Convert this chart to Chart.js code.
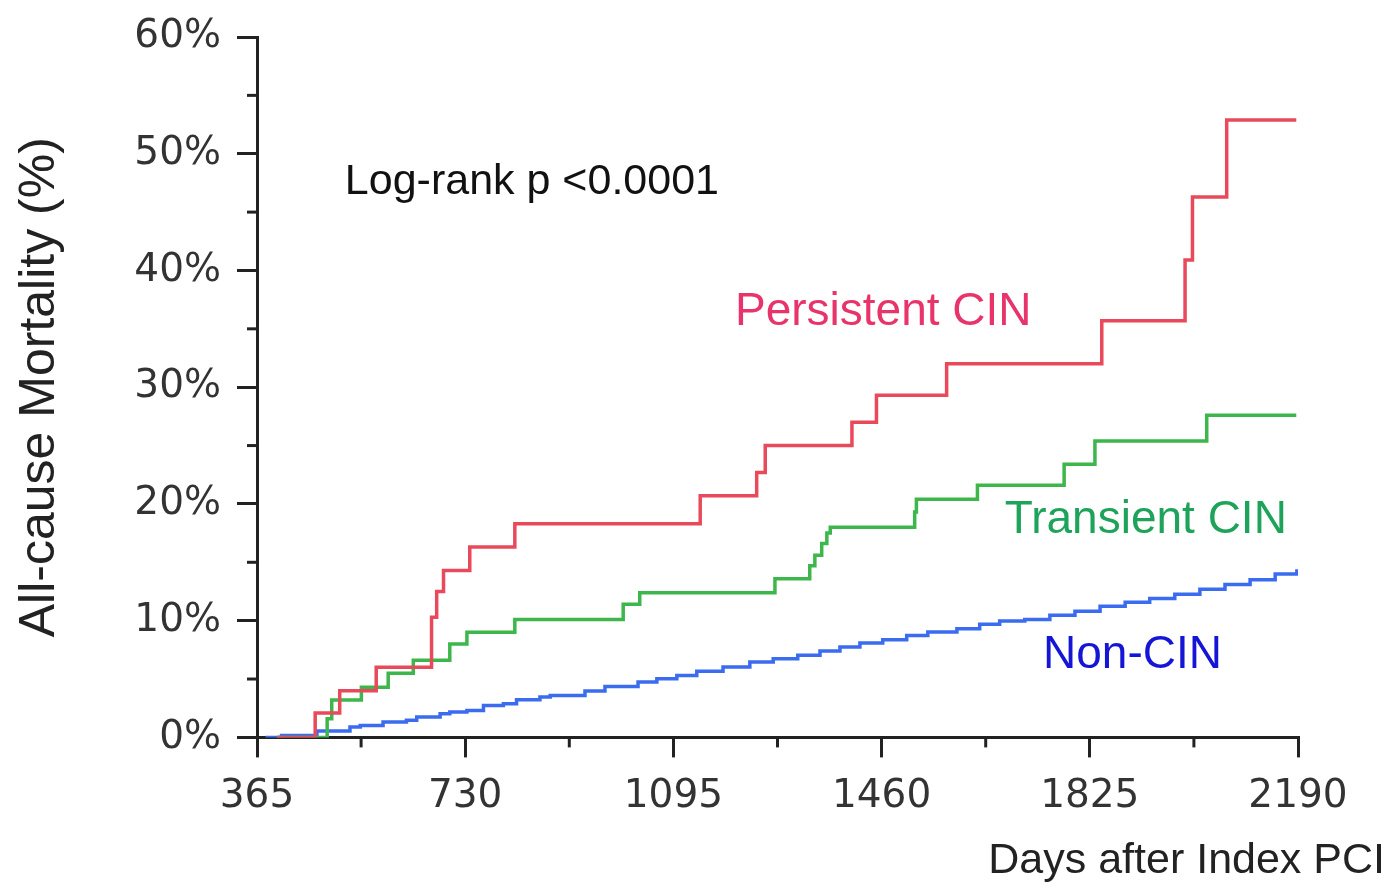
<!DOCTYPE html>
<html><head><meta charset="utf-8">
<script src="https://cdn.jsdelivr.net/npm/chart.js@4.4.0/dist/chart.umd.min.js"></script>
<style>html,body{margin:0;padding:0;background:#fff;overflow:hidden;}</style>
</head><body>
<canvas id="c" width="1393" height="889" style="display:block;width:1393px;height:889px"></canvas>
<script>
// ---- data (days after index PCI, cumulative mortality %) ----
const xTicks = [365, 730, 1095, 1460, 1825, 2190];
const xMinorTicks = [547.5, 912.5, 1277.5, 1642.5, 2007.5];
const yTicks = [0, 10, 20, 30, 40, 50, 60];
const yMinorTicks = [5, 15, 25, 35, 45, 55];

const persistentDays = [400, 467, 510, 574, 671, 680, 692, 738, 817, 1142, 1241, 1256, 1408, 1451, 1574, 1846, 1992, 2005, 2065, 2187];
const persistentPct  = [0, 2.1, 4.0, 6.0, 10.3, 12.5, 14.3, 16.3, 18.3, 20.7, 22.7, 25.0, 27.0, 29.3, 32.0, 35.7, 40.9, 46.3, 52.9, 52.9];

const transientDays = [400, 488, 496, 548, 595, 639, 703, 733, 817, 1007, 1036, 1273, 1334, 1343, 1355, 1364, 1370, 1518, 1521, 1628, 1780, 1834, 2030, 2187];
const transientPct  = [0, 1.6, 3.2, 4.3, 5.5, 6.6, 8.0, 9.0, 10.1, 11.4, 12.4, 13.6, 14.7, 15.6, 16.6, 17.5, 18.0, 19.3, 20.4, 21.6, 23.4, 25.4, 27.6, 27.6];

const nonCinDays = [380, 408, 470, 528, 546, 586, 627, 645, 686, 703, 733, 762, 797, 820, 861, 879, 940, 975, 1033, 1066, 1101, 1136, 1182, 1229, 1270, 1313, 1352, 1387, 1422, 1462, 1504, 1541, 1592, 1632, 1667, 1711, 1755, 1799, 1843, 1887, 1930, 1974, 2018, 2062, 2106, 2150, 2188];
const nonCinPct  = [0, 0.17, 0.54, 0.89, 1.03, 1.31, 1.46, 1.74, 2.03, 2.17, 2.31, 2.74, 2.89, 3.23, 3.46, 3.6, 3.97, 4.37, 4.74, 5.03, 5.31, 5.66, 6.03, 6.46, 6.74, 7.03, 7.4, 7.74, 8.08, 8.37, 8.74, 9.03, 9.31, 9.69, 9.97, 10.1, 10.46, 10.8, 11.23, 11.57, 11.9, 12.26, 12.7, 13.1, 13.5, 14.0, 14.4];

const seriesNames = ['Persistent CIN', 'Transient CIN', 'Non-CIN'];
const labelTexts = ['Log-rank p <0.0001', 'Persistent CIN', 'Transient CIN', 'Non-CIN'];
const labelDays  = [519, 1203, 1676, 1743];
const labelPcts  = [47.6, 36.4, 18.6, 7.0];

// ---- styles ----
const lineColors = ['#e8495b', '#3db64b', '#3b6cf0'];
const labelColors = ['#111111', '#e8336b', '#1ea35a', '#1515d6'];
const labelSizes = [43, 46, 46, 46];
const AXIS = '#222222';

function pts(xs, ys) { return xs.map((x, i) => ({ x: x, y: ys[i] })); }

const extras = {
  id: 'extras',
  afterDraw(chart) {
    const ctx = chart.ctx, xs = chart.scales.x, ys = chart.scales.y;
    const ca = chart.chartArea;
    ctx.save();
    ctx.strokeStyle = AXIS; ctx.lineWidth = 3;
    yMinorTicks.forEach(v => {
      const p = ys.getPixelForValue(v);
      ctx.beginPath(); ctx.moveTo(ca.left - 10, p); ctx.lineTo(ca.left, p); ctx.stroke();
    });
    xMinorTicks.forEach(v => {
      const p = xs.getPixelForValue(v);
      ctx.beginPath(); ctx.moveTo(p, ca.bottom); ctx.lineTo(p, ca.bottom + 10); ctx.stroke();
    });
    ctx.textAlign = 'left'; ctx.textBaseline = 'middle';
    labelTexts.forEach((t, i) => {
      ctx.font = labelSizes[i] + 'px "Liberation Sans", Arial, sans-serif';
      ctx.fillStyle = labelColors[i];
      ctx.fillText(t, xs.getPixelForValue(labelDays[i]), ys.getPixelForValue(labelPcts[i]));
    });
    ctx.restore();
  }
};

const tickFont = { family: '"DejaVu Sans", Verdana, sans-serif', size: 39, weight: 'normal' };
const tickColor = '#333333';

new Chart(document.getElementById('c'), {
  type: 'line',
  data: {
    datasets: [
      { label: seriesNames[0], data: pts(persistentDays, persistentPct), borderColor: lineColors[0] },
      { label: seriesNames[1], data: pts(transientDays, transientPct), borderColor: lineColors[1] },
      { label: seriesNames[2], data: pts(nonCinDays, nonCinPct), borderColor: lineColors[2] }
    ].map(d => Object.assign(d, { stepped: true, borderWidth: 3.5, pointRadius: 0, fill: false, tension: 0 }))
  },
  options: {
    responsive: false,
    animation: false,
    devicePixelRatio: 1,
    layout: { padding: { top: 37, right: 8, bottom: 0, left: 0 } },
    plugins: {
      legend: { display: false },
      tooltip: { enabled: false },
      title: {
        display: true, text: 'Days after Index PCI', position: 'bottom', align: 'end',
        color: AXIS, font: { family: '"Liberation Sans", Arial, sans-serif', size: 43, weight: 'normal' },
        padding: { top: 0, bottom: 2 }
      }
    },
    scales: {
      x: {
        type: 'linear', min: 365, max: 2190,
        afterBuildTicks: s => { s.ticks = xTicks.map(v => ({ value: v })); },
        afterFit: s => { s.height = 98; },
        ticks: { autoSkip: false, maxRotation: 0, color: tickColor, font: tickFont, padding: 16, callback: v => String(v) },
        grid: { drawOnChartArea: false, drawTicks: true, tickLength: 20, tickColor: AXIS, lineWidth: 3 },
        border: { display: true, width: 3, color: AXIS }
      },
      y: {
        type: 'linear', min: 0, max: 60,
        afterBuildTicks: s => { s.ticks = yTicks.map(v => ({ value: v })); },
        afterFit: s => { s.width = 257; s.paddingTop = 20; s.paddingBottom = 20; },
        ticks: { autoSkip: false, color: tickColor, font: tickFont, padding: 16, callback: v => v + '%' },
        grid: { drawOnChartArea: false, drawTicks: true, tickLength: 20, tickColor: AXIS, lineWidth: 3 },
        border: { display: true, width: 3, color: AXIS },
        title: { display: true, text: 'All-cause Mortality (%)', color: AXIS,
          font: { family: '"Liberation Sans", Arial, sans-serif', size: 50, weight: 'normal' },
          padding: { top: 10, bottom: 0 } }
      },
      yR: {
        type: 'linear', position: 'right', display: true, min: 0, max: 60,
        afterFit: s => { s.width = 87; },
        ticks: { display: false },
        grid: { display: false, drawTicks: false },
        border: { display: false }
      }
    }
  },
  plugins: [extras]
});
</script>
</body></html>
